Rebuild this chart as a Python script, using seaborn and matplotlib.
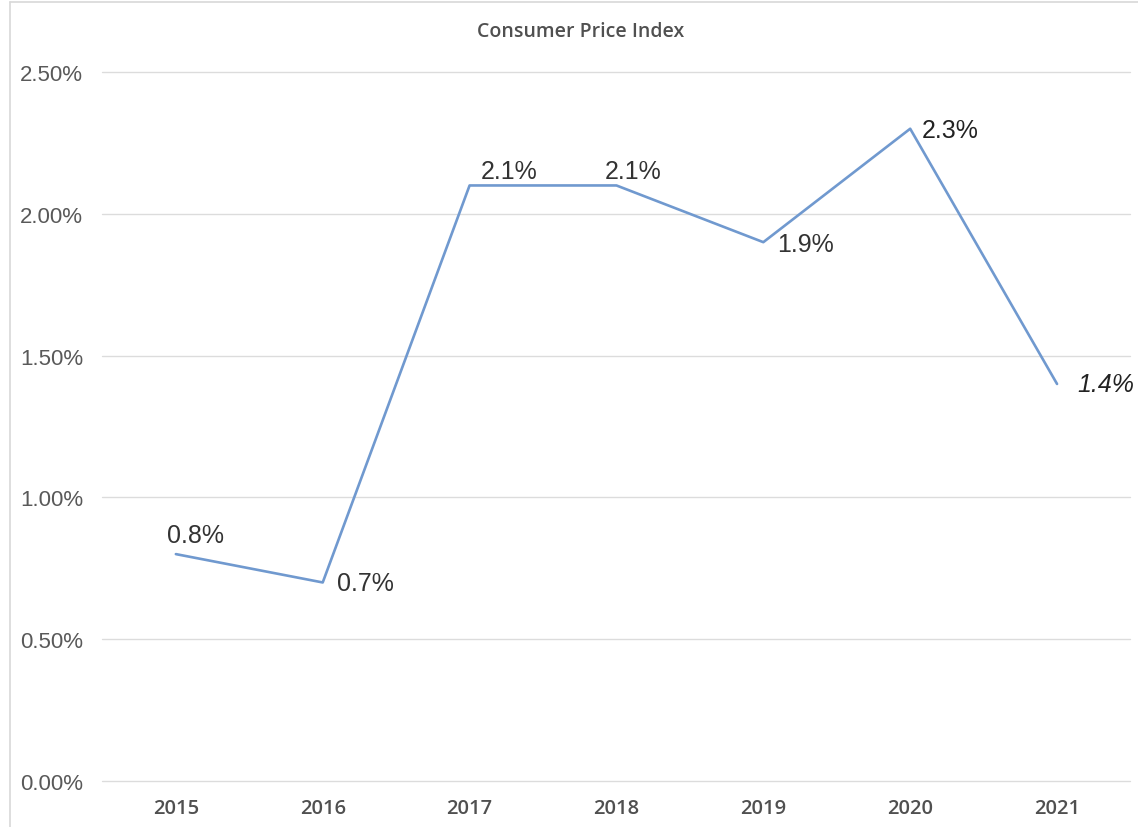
import matplotlib
matplotlib.use("Agg")
import matplotlib.pyplot as plt
from matplotlib.ticker import FuncFormatter, MultipleLocator
from matplotlib.lines import Line2D
import seaborn as sns
import pandas as pd

years = ["2015", "2016", "2017", "2018", "2019", "2020", "2021"]
cpi = [0.8, 0.7, 2.1, 2.1, 1.9, 2.3, 1.4]
labels = ["0.8%", "0.7%", "2.1%", "2.1%", "1.9%", "2.3%", "1.4%"]

sns.set_theme(style="white")
plt.rcParams["font.family"] = ["Liberation Sans", "DejaVu Sans"]

df = pd.DataFrame({"pos": range(len(years)), "year": years, "cpi": cpi})

fig = plt.figure(figsize=(11.38, 8.28), dpi=100)
ax = fig.add_axes([0.090, 0.0556, 0.9034, 0.8562])

sns.lineplot(data=df, x="pos", y="cpi", ax=ax, color="#7099cf", linewidth=1.9)

ax.set_xlim(-0.5, len(years) - 0.5)
ax.set_ylim(0, 2.5)
ax.yaxis.set_major_locator(MultipleLocator(0.5))
ax.yaxis.set_major_formatter(FuncFormatter(lambda v, _: f"{v:.2f}%"))
ax.set_xticks(df["pos"])
ax.set_xticklabels(years)
ax.grid(axis="y", color="#dcdcdc", linewidth=1.0)
ax.set_axisbelow(True)
for gl in ax.get_ygridlines():
    gl.set_clip_on(False)
for s in ax.spines.values():
    s.set_visible(False)
ax.set_xlabel("")
ax.set_ylabel("")
ax.tick_params(axis="y", length=0, pad=14, labelsize=16, labelcolor="#595959")
ax.tick_params(axis="x", length=0, pad=12, labelcolor="#505050")
for t in ax.get_xticklabels():
    t.set_fontfamily(["Open Sans", "DejaVu Sans"])
    t.set_fontsize(14.5)
    t.set_fontweight("semibold")

# point labels: (dx, dy) in pixels, horizontal/vertical alignment, style
placements = [
    (-9, 7, "left", "bottom", "normal"),
    (14, -1, "left", "center", "normal"),
    (11, 2, "left", "bottom", "normal"),
    (-12, 2, "left", "bottom", "normal"),
    (14, -2, "left", "center", "normal"),
    (12, -1, "left", "center", "normal"),
    (20, 0, "left", "center", "italic"),
]
for i, (lab, (dx, dy, ha, va, style)) in enumerate(zip(labels, placements)):
    ax.annotate(lab, (df["pos"][i], df["cpi"][i]), xytext=(dx, dy),
                textcoords="offset pixels", ha=ha, va=va, fontsize=18,
                fontstyle=style, color="#222222" if i >= 5 else "#333333")

fig.text(0.5105, 0.961, "Consumer Price Index", ha="center", va="center",
         fontsize=14, fontweight="semibold", color="#505050",
         family=["Open Sans", "DejaVu Sans"])

# light outer frame along left and top edges
fig.add_artist(Line2D([10 / 1138, 10 / 1138], [0, 1 - 3 / 828],
                      transform=fig.transFigure, color="#d8d8d8", linewidth=1.2))
fig.add_artist(Line2D([10 / 1138, 1], [1 - 3 / 828, 1 - 3 / 828],
                      transform=fig.transFigure, color="#d8d8d8", linewidth=1.2))

fig.savefig("out.png", dpi=100)
